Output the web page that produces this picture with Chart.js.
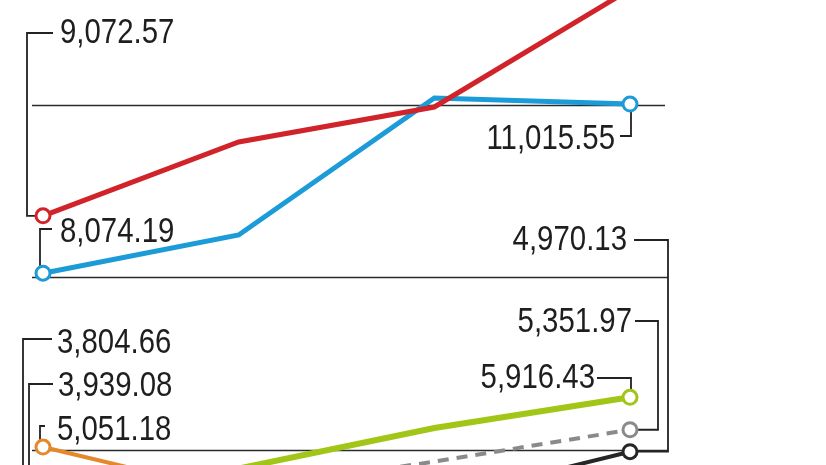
<!DOCTYPE html>
<html>
<head>
<meta charset="utf-8">
<script src="https://cdn.jsdelivr.net/npm/chart.js@4/dist/chart.umd.min.js"></script>
<style>
  html, body { margin: 0; padding: 0; background: #ffffff; overflow: hidden; }
  #wrap { position: relative; width: 826px; height: 465px; }
</style>
</head>
<body>
<div id="wrap"><canvas id="c" width="826" height="465"></canvas></div>
<script>
// ---- data ----
const categories = ['Period 1', 'Period 2', 'Period 3', 'Period 4'];
const redSeries    = [9072.57, 10356, 10965, 13010];
const blueSeries   = [8074.19, 8739, 11121, 11015.55];
const greenSeries  = [3939.08, 4678, 5383, 5916.43];
const graySeries   = [3804.66, 4300, 4797, 5351.97];
const blackSeries  = [3700, 3900, 4130, 4970.13];
const orangeSeries = [5051.18, 4240, 3900, 3700];
const gridValues   = [5000, 8000, 11000];
const yMin = 4739, yMax = 12826;

// value labels: dataset index, point index, text
const valueLabels = [
  { ds: 0, i: 0, text: '9,072.57' },
  { ds: 1, i: 0, text: '8,074.19' },
  { ds: 1, i: 3, text: '11,015.55' },
  { ds: 4, i: 3, text: '4,970.13' },
  { ds: 3, i: 3, text: '5,351.97' },
  { ds: 2, i: 3, text: '5,916.43' },
  { ds: 3, i: 0, text: '3,804.66' },
  { ds: 2, i: 0, text: '3,939.08' },
  { ds: 5, i: 0, text: '5,051.18' }
];

// ---- layout for labels (pixels) ----
const labelLayout = [
  { lx: 27,  ly: 33,  ex: 53,  tx: 60,  ty: 33,  align: 'left'  },
  { lx: 40,  ly: 229, ex: 52,  tx: 60,  ty: 232, align: 'left'  },
  { lx: 631, ly: 136, ex: 620, tx: 615, ty: 139, align: 'right' },
  { lx: 668, ly: 240, ex: 634, tx: 627, ty: 240, align: 'right' },
  { lx: 658, ly: 321, ex: 635, tx: 632, ty: 322, align: 'right' },
  { lx: 631, ly: 378, ex: 597, tx: 595, ty: 378, align: 'right' },
  { lx: 23,  ly: 339, ex: 52,  tx: 57,  ty: 343, align: 'left'  },
  { lx: 29,  ly: 384, ex: 53,  tx: 58,  ty: 386, align: 'left'  },
  { lx: 40,  ly: 426, ex: 45,  tx: 57,  ty: 430, align: 'left'  }
];

const LABEL_FONT = "35px 'Liberation Sans', Arial, sans-serif";
const LABEL_SQUEEZE = 0.84;

const decorPlugin = {
  id: 'decor',
  beforeDatasetsDraw(chart) {
    const ctx = chart.ctx;
    const xs = chart.scales.x, ys = chart.scales.y;
    const x0 = xs.getPixelForValue(0), x3 = xs.getPixelForValue(3);
    ctx.save();
    // grid lines
    ctx.strokeStyle = '#2b2b2b';
    ctx.lineWidth = 1.6;
    gridValues.forEach((v, k) => {
      const y = Math.round(ys.getPixelForValue(v)) + 0.5;
      ctx.beginPath();
      ctx.moveTo(x0 - 11, y);
      ctx.lineTo(x3 + (k === 2 ? 35 : 38), y);
      ctx.stroke();
    });
    // leader lines
    ctx.lineWidth = 1.8;
    ctx.strokeStyle = '#222';
    valueLabels.forEach((lab, n) => {
      const L = labelLayout[n];
      const pt = chart.getDatasetMeta(lab.ds).data[lab.i];
      const px = pt.x, py = pt.y;
      ctx.beginPath();
      ctx.moveTo(px, py);
      ctx.lineTo(L.lx, py);
      ctx.lineTo(L.lx, L.ly);
      ctx.lineTo(L.ex, L.ly);
      ctx.stroke();
    });
    ctx.restore();
  },
  afterDatasetsDraw(chart) {
    const ctx = chart.ctx;
    valueLabels.forEach((lab, n) => {
      const L = labelLayout[n];
      ctx.save();
      ctx.font = LABEL_FONT;
      ctx.fillStyle = '#1e1e1e';
      ctx.textBaseline = 'middle';
      ctx.textAlign = L.align;
      ctx.translate(L.tx, L.ty);
      ctx.scale(LABEL_SQUEEZE, 1);
      ctx.fillText(lab.text, 0, 0);
      ctx.restore();
    });
  }
};

function series(data, color, width, dash) {
  return {
    data: data,
    borderColor: color,
    borderWidth: width,
    borderDash: dash || [],
    tension: 0,
    fill: false,
    clip: false,
    pointRadius: [7, 0, 0, 7],
    pointHoverRadius: 0,
    pointBackgroundColor: '#ffffff',
    pointBorderColor: color,
    pointBorderWidth: 3
  };
}

new Chart(document.getElementById('c'), {
  type: 'line',
  data: {
    labels: categories,
    datasets: [
      series(redSeries,    '#d1232a', 5),
      series(blueSeries,   '#1b9bd7', 5),
      series(greenSeries,  '#a2c617', 6),
      series(graySeries,   '#8a8a8a', 4, [11, 8]),
      series(blackSeries,  '#262626', 4),
      series(orangeSeries, '#e4882b', 4)
    ]
  },
  options: {
    responsive: false,
    animation: false,
    events: [],
    layout: { autoPadding: false, padding: { left: 43, right: 196, top: 0, bottom: 0 } },
    plugins: { legend: { display: false }, tooltip: { enabled: false }, title: { display: false } },
    scales: {
      x: { display: false, offset: false },
      y: { display: false, min: yMin, max: yMax }
    }
  },
  plugins: [decorPlugin]
});
</script>
</body>
</html>
